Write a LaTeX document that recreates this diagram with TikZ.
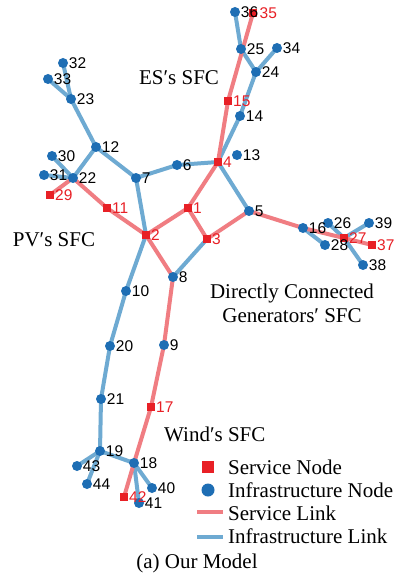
\documentclass[tikz,border=0pt]{standalone}
\usepackage{fontspec}
\setmainfont{Liberation Serif}
\newfontfamily\numfont{Liberation Sans}
\definecolor{srvnode}{RGB}{232,32,38}
\definecolor{srvlink}{RGB}{240,125,130}
\definecolor{infnode}{RGB}{30,110,180}
\definecolor{inflink}{RGB}{110,170,210}
\tikzset{
  inode/.style={circle, fill=infnode, inner sep=0pt, minimum size=10pt},
  snode/.style={rectangle, fill=srvnode, inner sep=0pt, minimum size=8.5pt},
  ilink/.style={draw=inflink, line width=4pt},
  slink/.style={draw=srvlink, line width=4pt},
  nlab/.style={font=\numfont\fontsize{15.5}{15.5}\selectfont, inner sep=0.5pt, anchor=west},
  title/.style={font=\fontsize{21}{24}\selectfont, inner sep=0pt, align=center},
}
\begin{document}
\begin{tikzpicture}[x=1pt, y=-1pt]
\useasboundingbox (0,0) rectangle (394,580);
\fill[white] (0,0) rectangle (394,580);

% infrastructure nodes
\foreach \n/\x/\y in {5/249/211, 6/177/165, 7/136/178, 8/173/277, 9/164/345,
  10/126/291, 12/96/147, 13/237/155, 14/240/116, 16/303/228, 18/134/463,
  19/100/451, 20/110/346, 21/101/399, 22/73/178, 23/71/99, 24/256/72,
  25/241/49, 26/328/223, 28/325/245, 30/52/156, 31/44/175, 32/63/63,
  33/48/79, 34/277/48, 36/235/12, 38/363/265, 39/369/223, 40/152/488,
  41/139/503, 43/77/466, 44/87/484}
  \coordinate (p\n) at (\x,\y);
% service nodes
\foreach \n/\x/\y in {1/188/208, 2/146/235, 3/207/239, 4/218/162, 11/107/208,
  15/228/101, 17/151/407, 27/344/238, 29/50/195, 35/253/13, 37/372/245,
  42/124/497}
  \coordinate (p\n) at (\x,\y);

% infrastructure links
\foreach \a/\b in {36/25, 25/24, 24/34, 24/14, 14/4, 4/6, 6/7, 7/12, 12/23,
  23/33, 23/32, 12/22, 22/30, 22/31, 7/2, 2/10, 10/20, 20/21, 21/19, 19/43,
  19/44, 19/18, 18/40, 18/41, 4/5, 3/8, 16/28, 26/27, 27/39, 27/38}
  \draw[ilink] (p\a) -- (p\b);

% service links
\foreach \a/\b in {35/15, 15/4, 4/1, 1/2, 1/3, 3/5, 5/16, 16/27, 27/37,
  2/11, 11/22, 22/29, 2/8, 8/9, 9/17, 17/18, 18/42}
  \draw[slink] (p\a) -- (p\b);

% node markers
\foreach \n in {5,6,7,8,9,10,12,13,14,16,18,19,20,21,22,23,24,25,26,28,30,31,
  32,33,34,38,39,40,41,43,44}
  \node[inode] (n\n) at (p\n) {};
\foreach \n in {1,2,3,4,11,15,17,27,29,35,37,42}
  \node[snode] (n\n) at (p\n) {};
\node[inode] (n36) at (p36) {};

% node numbers
\foreach \n in {5,6,7,8,9,10,12,13,14,16,18,19,20,21,22,23,24,25,26,28,30,31,
  32,33,34,36,38,39,40,41,43,44}
  \node[nlab, text=black] at (n\n.east) {\n};
\foreach \n in {1,2,3,4,11,15,17,27,29,37,42}
  \node[nlab, text=srvnode] at (n\n.east) {\n};
\node[nlab, text=srvnode, xshift=1.5pt] at (n35.east) {35};

% chain titles
\node[title] (tES) at (179,78) {ES′s SFC};
\node[title] (tPV) at (54,240) {PV′s SFC};
\node[title] (tDC) at (292,303) {Directly Connected\\Generators′ SFC};
\node[title, anchor=west] (tW) at (164,434) {Wind′s SFC};

% legend
\node[rectangle, fill=srvnode, inner sep=0pt, minimum size=12.5pt] (ls) at (208,467) {};
\node[circle, fill=infnode, inner sep=0pt, minimum size=13pt] (li) at (208,490) {};
\coordinate (lsa) at (197,512); \coordinate (lsb) at (223,512);
\coordinate (lia) at (197,537); \coordinate (lib) at (223,537);
\draw[slink] (lsa) -- (lsb);
\draw[ilink] (lia) -- (lib);
\node[title, anchor=west] at (228,467) {Service Node};
\node[title, anchor=west] at (228,490) {Infrastructure Node};
\node[title, anchor=west] at (228,513) {Service Link};
\node[title, anchor=west] at (228,536) {Infrastructure Link};

% caption
\node[title] (cap) at (197,563) {(a) Our Model};
\end{tikzpicture}
\end{document}
